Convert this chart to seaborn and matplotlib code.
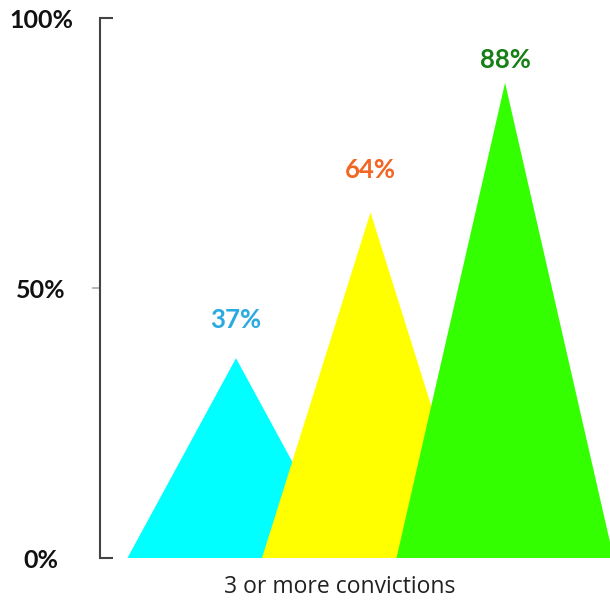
import matplotlib
matplotlib.use("Agg")
import matplotlib.pyplot as plt
import seaborn as sns
import numpy as np

# Share of people with 3 or more convictions, one peak per group
positions = [0, 1, 2]
values = [37, 64, 88]
peak_colors = ["#00ffff", "#ffff00", "#33ff00"]
label_colors = ["#29abe2", "#f26522", "#167f16"]
label_offsets = [38, 42, 23]  # px above each peak
yticks = [0, 50, 100]
ytick_labels = ["0%", "50%", "100%"]
xlabel = "3 or more convictions"

sns.set_theme(style="white")
plt.rcParams["font.family"] = ["Lato", "DejaVu Sans"]

fig = plt.figure(figsize=(6.10, 6.02), dpi=100)
ax = fig.add_axes([100 / 610, 44 / 602, 510 / 610, 540 / 602])

half_width = 0.807
for x, v, c, lc, off in zip(positions, values, peak_colors, label_colors, label_offsets):
    ax.fill([x - half_width, x, x + half_width], [0, v, 0], color=c, linewidth=0, zorder=2)
    ax.annotate(f"{v}%", xy=(x, v), xytext=(0, off * 72 / 100), textcoords="offset points",
                ha="center", va="center", fontsize=18.5, fontweight="bold", color=lc)

ax.set_xlim(-1.011, 2.78)
ax.set_ylim(0, 100)
ax.set_xticks([])

sns.despine(ax=ax, top=True, right=True, bottom=True, left=False)
ax.spines["left"].set_color("#444444")
ax.spines["left"].set_linewidth(1.5)
ax.spines["left"].set_zorder(3)

ax.set_yticks(yticks, ytick_labels)
ax.tick_params(axis="y", which="major", left=True, direction="in", length=9.5, width=1.5,
               color="#444444", pad=42.5, labelsize=18)
for lbl in ax.get_yticklabels():
    lbl.set_fontweight("bold")
    lbl.set_horizontalalignment("center")
    lbl.set_color("#111111")
ax.yaxis.get_major_ticks()[1].tick1line.set_visible(False)

ax.yaxis.remove_overlapping_locs = False
ax.set_yticks([50], minor=True)
ax.tick_params(axis="y", which="minor", left=True, direction="out", length=6, width=1.2,
               color="#aaaaaa", labelleft=False)

ax.set_xlabel(xlabel, fontsize=16.5, color="#222222", va="center",
              family=["Open Sans", "DejaVu Sans"])
ax.xaxis.set_label_coords((339.5 - 100) / 510, -29 / 540)

fig.savefig("out.png", dpi=100)
